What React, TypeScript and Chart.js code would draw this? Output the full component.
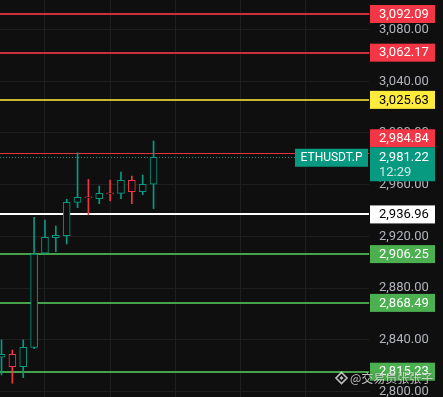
import React, { useEffect, useRef } from 'react';
import { Chart, registerables } from 'chart.js';

Chart.register(...registerables);

// ---- data ----
const candleIndex = [0, 1, 2, 3, 4, 5, 6, 7, 8, 9, 10, 11, 12, 13, 14];
const opens = [2826.4, 2828.7, 2819.1, 2834.1, 2906.9, 2919.0, 2920.5, 2946.3, 2950.6, 2949.1, 2953.7, 2953.3, 2963.4, 2954.6, 2960.3];
const highs = [2839.8, 2832.0, 2839.8, 2934.8, 2932.6, 2928.0, 2948.7, 2984.6, 2964.1, 2958.9, 2963.6, 2969.8, 2966.7, 2967.5, 2993.8];
const lows = [2812.7, 2806.3, 2810.6, 2833.0, 2906.5, 2908.1, 2914.1, 2942.2, 2936.8, 2945.2, 2947.4, 2949.1, 2945.2, 2952.2, 2941.4];
const closes = [2828.7, 2819.1, 2834.1, 2906.3, 2919.3, 2920.8, 2946.3, 2950.2, 2949.8, 2953.3, 2952.9, 2963.4, 2954.6, 2960.3, 2981.22];

const levelValues = [3092.09, 3062.17, 3025.63, 2984.84, 2936.96, 2906.25, 2868.49, 2815.23];
const levelKinds = ['sell', 'sell', 'pivot', 'sellThin', 'base', 'buy', 'buy', 'buy'];

const symbolName = 'ETHUSDT.P';
const lastPrice = 2981.22;
const countdown = '12:29';
const watermark = '@交易员张张子';

const priceStep = 40;
const priceMin = 2795.65;
const priceMax = 3102.93;
const barMin = -0.14;
const barMax = 33.84;
const gridCandles = [4, 10, 16, 22, 28];

// ---- styles ----
const BG = '#0f0f0f';
const GRID = '#1f1f1f';
const UP = '#089981';
const DOWN = '#f23645';
const FONT = 'Roboto, "Liberation Sans", sans-serif';

const levelStyle: Record<string, { line: string; width: number; box: string; text: string }> = {
  sell: { line: '#cc2f3b', width: 2, box: '#f23645', text: '#ffffff' },
  sellThin: { line: '#e0343f', width: 1, box: '#f23645', text: '#ffffff' },
  pivot: { line: '#c9b92f', width: 2, box: '#ffeb3b', text: '#000000' },
  base: { line: '#ffffff', width: 2, box: '#ffffff', text: '#000000' },
  buy: { line: '#46a24a', width: 2, box: '#4caf50', text: '#ffffff' },
};

const fmt = (v: number) =>
  v.toLocaleString('en-US', { minimumFractionDigits: 2, maximumFractionDigits: 2 });

const bgPlugin = {
  id: 'bgFill',
  beforeDraw(chart: any) {
    const { ctx, width, height } = chart;
    ctx.save();
    ctx.fillStyle = BG;
    ctx.fillRect(0, 0, width, height);
    ctx.restore();
  },
};

const levelsPlugin = {
  id: 'levels',
  beforeDatasetsDraw(chart: any) {
    const { ctx, chartArea } = chart;
    const y = chart.scales.y;
    ctx.save();
    levelValues.forEach((v, i) => {
      const st = levelStyle[levelKinds[i]];
      const py = y.getPixelForValue(v);
      ctx.strokeStyle = st.line;
      ctx.lineWidth = st.width;
      ctx.beginPath();
      const yy = st.width % 2 === 1 ? Math.round(py) + 0.5 : Math.round(py);
      ctx.moveTo(chartArea.left, yy);
      ctx.lineTo(chartArea.right, yy);
      ctx.stroke();
    });
    // last price dotted line
    const lp = Math.round(y.getPixelForValue(lastPrice)) + 0.5;
    ctx.strokeStyle = UP;
    ctx.lineWidth = 1;
    ctx.setLineDash([1, 2]);
    ctx.beginPath();
    ctx.moveTo(chartArea.left, lp);
    ctx.lineTo(chartArea.right, lp);
    ctx.stroke();
    ctx.restore();
  },
  afterDraw(chart: any) {
    const { ctx, chartArea } = chart;
    const y = chart.scales.y;
    const boxX = chartArea.right + 1;
    const boxW = 65;
    const textX = boxX + 9;
    const lp = y.getPixelForValue(lastPrice);
    const curTop = lp - 10;
    const curH = 34;
    ctx.save();
    ctx.textBaseline = 'middle';
    ctx.textAlign = 'left';
    ctx.font = `13px ${FONT}`;
    levelValues.forEach((v, i) => {
      const st = levelStyle[levelKinds[i]];
      const py = y.getPixelForValue(v);
      let top = py - 9;
      const h = 18;
      if (top + h > curTop && top < curTop + curH) {
        if (py < lp) top = curTop - h;
        else top = curTop + curH;
      }
      ctx.fillStyle = st.box;
      ctx.fillRect(boxX, top, boxW, h);
      ctx.fillStyle = st.text;
      ctx.fillText(fmt(v), textX, top + h / 2 + 0.5);
    });
    // current price box
    ctx.fillStyle = UP;
    ctx.fillRect(boxX, curTop, boxW, curH);
    ctx.fillStyle = '#ffffff';
    ctx.fillText(fmt(lastPrice), textX, lp + 0.5);
    ctx.fillStyle = 'rgba(255,255,255,0.78)';
    ctx.fillText(countdown, textX, lp + 15.5);
    // symbol box
    ctx.fillStyle = UP;
    ctx.fillRect(chartArea.right - 74, lp - 8.5, 73, 18);
    ctx.fillStyle = '#ffffff';
    ctx.font = `12px ${FONT}`;
    ctx.textAlign = 'center';
    ctx.fillText(symbolName, chartArea.right - 37.5, lp + 0.8);
    // watermark
    const cx = 341.5;
    const cy = 378;
    ctx.fillStyle = 'rgba(235,235,235,0.8)';
    ctx.strokeStyle = 'rgba(235,235,235,0.8)';
    ctx.lineWidth = 1.6;
    ctx.beginPath();
    ctx.moveTo(cx, cy - 5.5);
    ctx.lineTo(cx + 5.5, cy);
    ctx.lineTo(cx, cy + 5.5);
    ctx.lineTo(cx - 5.5, cy);
    ctx.closePath();
    ctx.stroke();
    ctx.beginPath();
    ctx.moveTo(cx, cy - 2);
    ctx.lineTo(cx + 2, cy);
    ctx.lineTo(cx, cy + 2);
    ctx.lineTo(cx - 2, cy);
    ctx.closePath();
    ctx.fill();
    ctx.textAlign = 'left';
    ctx.font = `12px "Noto Sans CJK SC", ${FONT}`;
    ctx.shadowColor = 'rgba(0,0,0,0.6)';
    ctx.shadowBlur = 2;
    ctx.fillText(watermark, 350, cy + 0.5);
    ctx.restore();
  },
};

export default function App() {
  const ref = useRef<HTMLCanvasElement | null>(null);

  useEffect(() => {
    document.body.style.margin = '0';
    document.body.style.background = BG;
    if (!ref.current) return;
    const colors = candleIndex.map((i) => (closes[i] >= opens[i] ? UP : DOWN));
    const chart = new Chart(ref.current, {
      type: 'bar',
      data: {
        datasets: [
          {
            label: 'body',
            data: candleIndex.map((i) => ({ x: i, y: [opens[i], closes[i]] })) as any,
            backgroundColor: BG,
            borderColor: colors,
            borderWidth: 1,
            borderSkipped: false,
            barThickness: 7,
            grouped: false,
            order: 1,
          } as any,
          {
            label: 'wick',
            data: candleIndex.map((i) => ({ x: i, y: [lows[i], highs[i]] })) as any,
            backgroundColor: colors,
            borderWidth: 0,
            barThickness: 1,
            grouped: false,
            order: 2,
          } as any,
        ],
      },
      options: {
        responsive: false,
        animation: false,
        devicePixelRatio: 1,
        layout: { padding: 0 },
        plugins: { legend: { display: false }, tooltip: { enabled: false } },
        scales: {
          x: {
            type: 'linear',
            min: barMin,
            max: barMax,
            offset: false,
            grid: { color: GRID, drawTicks: false, offset: false },
            border: { display: false },
            ticks: { display: false },
            afterBuildTicks: (s: any) => {
              s.ticks = gridCandles.map((v) => ({ value: v }));
            },
            afterFit: (s: any) => {
              s.height = 0;
              s.paddingLeft = 0;
              s.paddingRight = 0;
              s.paddingTop = 0;
              s.paddingBottom = 0;
            },
          } as any,
          y: {
            type: 'linear',
            position: 'right',
            min: priceMin,
            max: priceMax,
            grid: { color: GRID, drawTicks: false },
            border: { display: false },
            ticks: {
              stepSize: priceStep,
              includeBounds: false,
              color: '#b2b5be',
              font: { family: FONT, size: 13 },
              padding: 10,
              callback: (v: any) => fmt(Number(v)),
            },
            afterFit: (s: any) => {
              s.width = 74;
              s.paddingTop = 0;
              s.paddingBottom = 0;
              s.paddingLeft = 0;
              s.paddingRight = 0;
            },
          } as any,
        },
      },
      plugins: [bgPlugin, levelsPlugin],
    });
    return () => chart.destroy();
  }, []);

  return (
    <div style={{ width: 443, height: 397, background: BG }}>
      <canvas ref={ref} width={443} height={397} style={{ display: 'block' }} />
    </div>
  );
}
